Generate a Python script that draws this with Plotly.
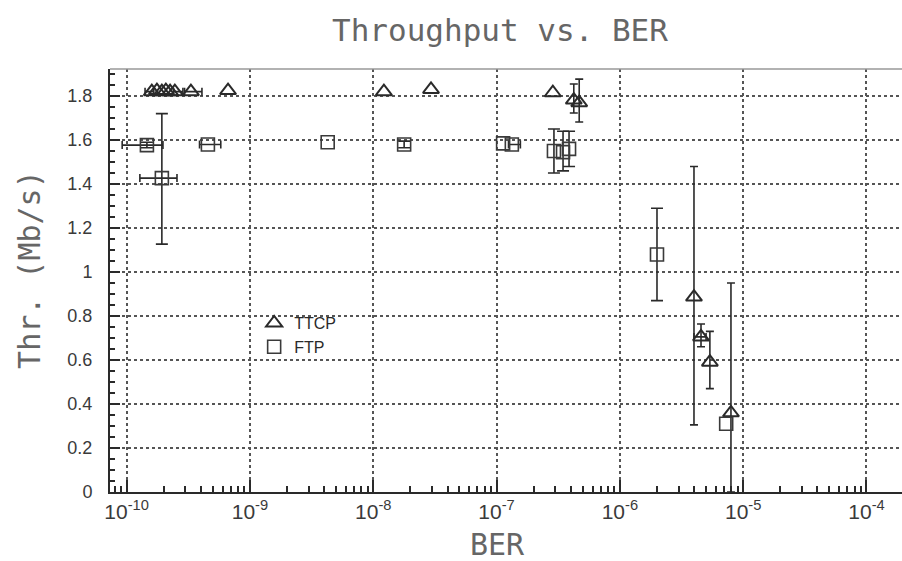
import plotly.graph_objects as go

# ---------------- data ----------------
ttcp_ber = [1.60e-10, 1.76e-10, 1.93e-10, 2.08e-10, 2.25e-10, 2.46e-10, 3.32e-10, 6.64e-10,
            1.22e-8, 2.94e-8, 2.86e-7, 4.23e-7, 4.68e-7,
            3.99e-6, 4.55e-6, 5.37e-6, 7.96e-6]
ttcp_thr = [1.82, 1.825, 1.82, 1.825, 1.82, 1.82, 1.82, 1.825,
            1.82, 1.83, 1.815, 1.782, 1.77,
            0.886, 0.705, 0.59, 0.36]
ttcp_thr_hi = [None, None, None, None, None, None, None, None,
               None, None, None, 1.855, 1.877,
               1.48, 0.764, 0.73, 0.95]
ttcp_thr_lo = [None, None, None, None, None, None, None, None,
               None, None, None, 1.723, 1.682,
               0.305, 0.66, 0.47, 0.0]
ttcp_ber_lo = [1.41e-10, None, None, None, None, 2.40e-10, 2.95e-10, None,
               None, None, None, None, None,
               None, 3.99e-6, None, None]
ttcp_ber_hi = [1.66e-10, None, None, None, None, 2.86e-10, 4.08e-10, None,
               None, None, None, None, None,
               None, 5.0e-6, None, None]

ftp_ber = [1.46e-10, 1.93e-10, 4.56e-10, 4.27e-9, 1.78e-8, 1.13e-7, 1.33e-7,
           2.92e-7, 3.46e-7, 3.87e-7, 2.0e-6, 7.28e-6]
ftp_thr = [1.577, 1.427, 1.58, 1.59, 1.58, 1.585, 1.58,
           1.55, 1.545, 1.56, 1.08, 0.31]
ftp_thr_hi = [1.59, 1.72, None, None, 1.595, None, None,
              1.65, 1.64, 1.64, 1.29, None]
ftp_thr_lo = [1.565, 1.127, None, None, 1.565, None, None,
              1.45, 1.46, 1.48, 0.87, None]
ftp_ber_lo = [9.2e-11, 1.28e-10, 3.9e-10, None, None, None, 1.25e-7,
              None, None, None, None, None]
ftp_ber_hi = [1.97e-10, 2.56e-10, 5.8e-10, None, None, None, 1.56e-7,
              None, None, None, None, None]

x_tick_vals = [1e-10, 1e-9, 1e-8, 1e-7, 1e-6, 1e-5, 1e-4]
x_tick_text = ["10<sup>-10</sup>", "10<sup>-9</sup>", "10<sup>-8</sup>", "10<sup>-7</sup>",
               "10<sup>-6</sup>", "10<sup>-5</sup>", "10<sup>-4</sup>"]
y_tick_vals = [0, 0.2, 0.4, 0.6, 0.8, 1.0, 1.2, 1.4, 1.6, 1.8]
y_tick_text = ["0", "0.2", "0.4", "0.6", "0.8", "1", "1.2", "1.4", "1.6", "1.8"]

INK = "#2a2a2a"
TXT = "#3a3a3a"
TFONT = "DejaVu Sans Mono"
LFONT = "Liberation Sans"

fig = go.Figure()


def add_series(name, xs, ys, yhi, ylo, xlo, xhi, symbol, size, lw, color, capw):
    # error bars, one trace per point that has them
    for i in range(len(xs)):
        ey = None
        ex = None
        if yhi[i] is not None:
            ey = dict(type="data", symmetric=False, array=[yhi[i] - ys[i]],
                      arrayminus=[ys[i] - ylo[i]], color=INK, thickness=1.6, width=capw)
        if xhi[i] is not None:
            ex = dict(type="data", symmetric=False, array=[xhi[i] - xs[i]],
                      arrayminus=[xs[i] - xlo[i]], color=INK, thickness=1.6, width=4)
        if ey is None and ex is None:
            continue
        tr = dict(x=[xs[i]], y=[ys[i]], mode="markers", showlegend=False,
                  legendgroup=name, hoverinfo="skip",
                  marker=dict(size=2, color="rgba(0,0,0,0)"))
        if ey is not None:
            tr["error_y"] = ey
        if ex is not None:
            tr["error_x"] = ex
        fig.add_trace(go.Scatter(**tr))
    fig.add_trace(go.Scatter(
        x=xs, y=ys, mode="markers", name=name, legendgroup=name,
        marker=dict(symbol=symbol, size=size, color=color, line=dict(width=lw, color=color)),
    ))


add_series("TTCP", ttcp_ber, ttcp_thr, ttcp_thr_hi, ttcp_thr_lo, ttcp_ber_lo, ttcp_ber_hi,
           "triangle-up-open", 14, 2, INK, 4)
add_series("FTP", ftp_ber, ftp_thr, ftp_thr_hi, ftp_thr_lo, ftp_ber_lo, ftp_ber_hi,
           "square-open", 13, 1.6, "#3a3a3a", 6)

fig.update_xaxes(
    type="log", range=[-10.135, -3.712],
    tickmode="array", tickvals=x_tick_vals, ticktext=x_tick_text,
    ticks="inside", ticklen=12, tickwidth=1.5, tickcolor=INK,
    tickfont=dict(family=LFONT, size=21, color=TXT),
    showline=True, linecolor=INK, linewidth=2,
    showgrid=True, gridcolor="#555555", griddash="dot", gridwidth=1.5,
    minor=dict(tickmode="linear", dtick="D1", ticks="inside", ticklen=6, tickwidth=1.5,
               tickcolor=INK, showgrid=False),
    zeroline=False,
)
fig.update_yaxes(
    range=[0, 1.923],
    tickmode="array", tickvals=y_tick_vals, ticktext=y_tick_text,
    ticks="inside", ticklen=10, tickwidth=1.5, tickcolor=INK,
    tickfont=dict(family=LFONT, size=18, color=TXT), ticklabelstandoff=12,
    showline=True, linecolor=INK, linewidth=2,
    showgrid=True, gridcolor="#555555", griddash="dot", gridwidth=1.5,
    minor=dict(dtick=0.05, ticks="inside", ticklen=5, tickwidth=1.5, tickcolor=INK, showgrid=False),
    zeroline=False,
)

fig.add_shape(type="line", xref="paper", yref="paper", x0=0, x1=1, y0=1, y1=1,
              line=dict(color="#999999", width=1.5))

fig.update_layout(
    width=902, height=561,
    margin=dict(l=110, r=0, t=69, b=69),
    plot_bgcolor="white", paper_bgcolor="white",
    showlegend=True,
    legend=dict(x=0.182, y=0.371, xanchor="left", yanchor="middle",
                bgcolor="rgba(0,0,0,0)", font=dict(family=LFONT, size=16, color=INK),
                tracegroupgap=0),
    annotations=[
        dict(text="Throughput vs. BER", xref="paper", yref="paper", x=0.492, y=1.092,
             showarrow=False, xanchor="center", yanchor="middle",
             font=dict(family=TFONT, size=31, color="#666666")),
        dict(text="BER", xref="paper", yref="paper", x=0.489, y=-0.125,
             showarrow=False, xanchor="center", yanchor="middle",
             font=dict(family=TFONT, size=30, color="#666666")),
        dict(text="Thr. (Mb/s)", xref="paper", yref="paper", x=-0.101, y=0.525,
             showarrow=False, xanchor="center", yanchor="middle", textangle=-90,
             font=dict(family=TFONT, size=30, color="#666666")),
    ],
)

fig.write_html("out.html")
